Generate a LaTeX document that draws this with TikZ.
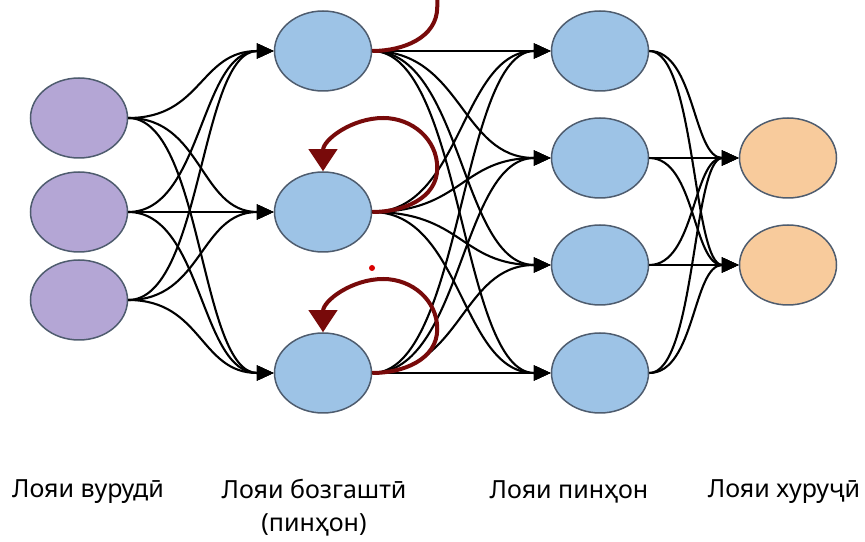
\documentclass[tikz,border=0pt]{standalone}
\usepackage{fontspec}
\setmainfont{Noto Sans}
\usetikzlibrary{arrows.meta,shapes.geometric}
\definecolor{inputfill}{RGB}{180,166,213}
\definecolor{hiddenfill}{RGB}{157,195,230}
\definecolor{outputfill}{RGB}{248,203,156}
\definecolor{nodeline}{RGB}{78,92,110}
\definecolor{loopred}{RGB}{120,10,10}

\begin{document}
\begin{tikzpicture}[
		x=1pt, y=1pt,
		neuron/.style={ellipse,draw=nodeline,line width=1.5pt,minimum width=97pt,minimum height=80pt,inner sep=0pt},
		edge/.style={line width=2.1pt,-{Triangle[length=17pt,width=15pt]}},
		recur/.style={draw=loopred,line width=4pt},
		layer/.style={font=\fontsize{25}{33}\selectfont,align=center}
	]
	\useasboundingbox (0,0) rectangle (865,541);
	\node[neuron,fill=inputfill] (i1) at (79,423) {};
	\node[neuron,fill=inputfill] (i2) at (79,329) {};
	\node[neuron,fill=inputfill] (i3) at (79,241) {};
	\node[neuron,fill=hiddenfill] (r1) at (323,490) {};
	\node[neuron,fill=hiddenfill] (r2) at (323,329) {};
	\node[neuron,fill=hiddenfill] (r3) at (323,168) {};
	\node[neuron,fill=hiddenfill] (h1) at (600,490) {};
	\node[neuron,fill=hiddenfill] (h2) at (600,383) {};
	\node[neuron,fill=hiddenfill] (h3) at (600,276) {};
	\node[neuron,fill=hiddenfill] (h4) at (600,168) {};
	\node[neuron,fill=outputfill] (o1) at (788,383) {};
	\node[neuron,fill=outputfill] (o2) at (788,276) {};

	\foreach \a in {1,2,3}
		\foreach \b in {1,2,3}
			\draw[edge] (i\a.east) .. controls +(74,0) and +(-74,0) .. (r\b.west);
	\foreach \a in {1,2,3}
		\foreach \b in {1,...,4}
			\draw[edge] (r\a.east) .. controls +(90,0) and +(-90,0) .. (h\b.west);
	\foreach \a in {1,...,4}
		\foreach \b in {1,2}
			\draw[edge] (h\a.east) .. controls +(46,0) and +(-46,0) .. (o\b.west);

	\begin{scope}
		\clip (0,0) rectangle (865,541);
		\draw[recur] (r1.east) to[out=0,in=-90] ++(65,44) -- ++(0,10);
	\end{scope}
	\foreach \k in {2,3}
		\draw[recur,-{Triangle[length=22pt,width=28pt]}] (r\k.east) to[out=0,in=-90] ++(65,44) to[out=90,in=0] ++(-54,50) to[out=180,in=90] (r\k.north);
	\fill[red!85!black] (372,273) circle (3);

	\node[layer] (l1) at (88,49) {Лояи вурудӣ};
	\node[layer] (l2) at (314,33) {Лояи бозгаштӣ\\(пинҳон)};
	\node[layer] (l3) at (569,49) {Лояи пинҳон};
	\node[layer] (l4) at (784,49) {Лояи хуруҷӣ};
\end{tikzpicture}
\end{document}
